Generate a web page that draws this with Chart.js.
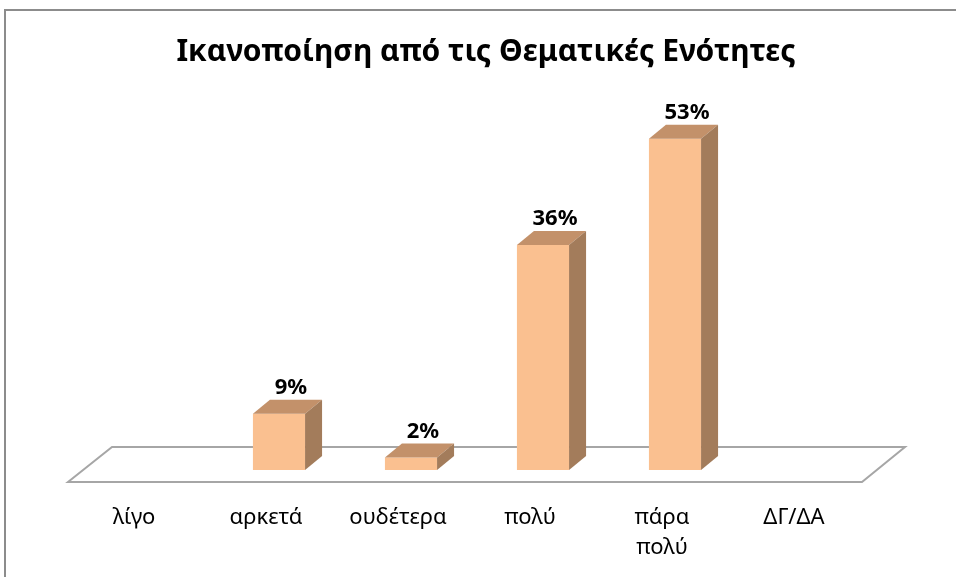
<!DOCTYPE html>
<html>
<head>
<meta charset="utf-8">
<script src="https://cdn.jsdelivr.net/npm/chart.js@4"></script>
<style>
    html, body { margin: 0; padding: 0; background: #fff; overflow: hidden; }
    #frame { position: absolute; left: 4px; top: 9px; width: 1000px; height: 600px; border-left: 2px solid #8c8c8c; border-top: 2px solid #8c8c8c; }
    #wrap { position: absolute; left: 0; top: 0; width: 956px; height: 577px; }
</style>
</head>
<body>
<div id="frame"></div>
<div id="wrap"><canvas id="chart" width="956" height="577"></canvas></div>
<script>
// Data
const categories = ['λίγο', 'αρκετά', 'ουδέτερα', 'πολύ', ['πάρα', 'πολύ'], 'ΔΓ/ΔΑ'];
const percentages = [0, 9, 2, 36, 53, 0];

const FONT = '"Noto Sans", "Open Sans", sans-serif';
const DEPTH_X = 17;
const DEPTH_Y = 14;

// Floor of the 3D plot
const floorPlugin = {
    id: 'floor',
    beforeDatasetsDraw(chart) {
        const { ctx, chartArea } = chart;
        const base = chart.scales.y.getPixelForValue(0);
        ctx.save();
        ctx.beginPath();
        ctx.moveTo(chartArea.left - 13, base + 12);
        ctx.lineTo(chartArea.left + 31, base - 23);
        ctx.lineTo(chartArea.right + 32, base - 23);
        ctx.lineTo(chartArea.right - 11, base + 12);
        ctx.closePath();
        ctx.fillStyle = '#ffffff';
        ctx.fill();
        ctx.strokeStyle = '#a6a6a6';
        ctx.lineWidth = 2;
        ctx.stroke();
        ctx.restore();
    }
};

// Top and side faces + value labels
const boxPlugin = {
    id: 'box3d',
    afterDatasetsDraw(chart) {
        const { ctx } = chart;
        const meta = chart.getDatasetMeta(0);
        ctx.save();
        meta.data.forEach((bar, i) => {
            if (!percentages[i]) return;
            const p = bar.getProps(['x', 'y', 'width', 'base'], true);
            const left = p.x - p.width / 2;
            const right = p.x + p.width / 2;

            // top face
            ctx.beginPath();
            ctx.moveTo(left, p.y);
            ctx.lineTo(left + DEPTH_X, p.y - DEPTH_Y);
            ctx.lineTo(right + DEPTH_X, p.y - DEPTH_Y);
            ctx.lineTo(right, p.y);
            ctx.closePath();
            ctx.fillStyle = '#C3916A';
            ctx.fill();

            // side face
            ctx.beginPath();
            ctx.moveTo(right, p.y);
            ctx.lineTo(right + DEPTH_X, p.y - DEPTH_Y);
            ctx.lineTo(right + DEPTH_X, p.base - DEPTH_Y);
            ctx.lineTo(right, p.base);
            ctx.closePath();
            ctx.fillStyle = '#A37C5B';
            ctx.fill();

            // label
            ctx.fillStyle = '#000';
            ctx.font = 'bold 22px ' + FONT;
            ctx.textAlign = 'center';
            ctx.textBaseline = 'middle';
            ctx.fillText(percentages[i] + '%', p.x + 12, p.y - DEPTH_Y - 12);
        });
        ctx.restore();
    }
};

new Chart(document.getElementById('chart'), {
    type: 'bar',
    data: {
        labels: categories,
        datasets: [{
            data: percentages,
            backgroundColor: '#FAC090',
            borderWidth: 0,
            categoryPercentage: 1,
            barPercentage: 0.395
        }]
    },
    options: {
        responsive: false,
        animation: false,
        layout: { padding: { left: 81, right: 65, bottom: 0 } },
        plugins: {
            legend: { display: false },
            tooltip: { enabled: false },
            title: {
                display: true,
                text: 'Ικανοποίηση από τις Θεματικές Ενότητες',
                color: '#000',
                font: { family: FONT, size: 30, weight: 'bold', lineHeight: 1.2 },
                padding: { top: 34, bottom: 25 }
            }
        },
        scales: {
            x: {
                grid: { display: false },
                border: { display: false },
                afterFit(scale) { scale.height = 107; },
                ticks: {
                    color: '#000',
                    font: { family: FONT, size: 22, lineHeight: 1.36 },
                    padding: 25,
                    labelOffset: -13,
                    maxRotation: 0,
                    autoSkip: false
                }
            },
            y: {
                position: 'right',
                min: 0,
                max: 60,
                grid: { display: false },
                border: { display: false },
                ticks: { display: false },
                afterFit(scale) { scale.width = 18; }
            }
        }
    },
    plugins: [floorPlugin, boxPlugin]
});
</script>
</body>
</html>
